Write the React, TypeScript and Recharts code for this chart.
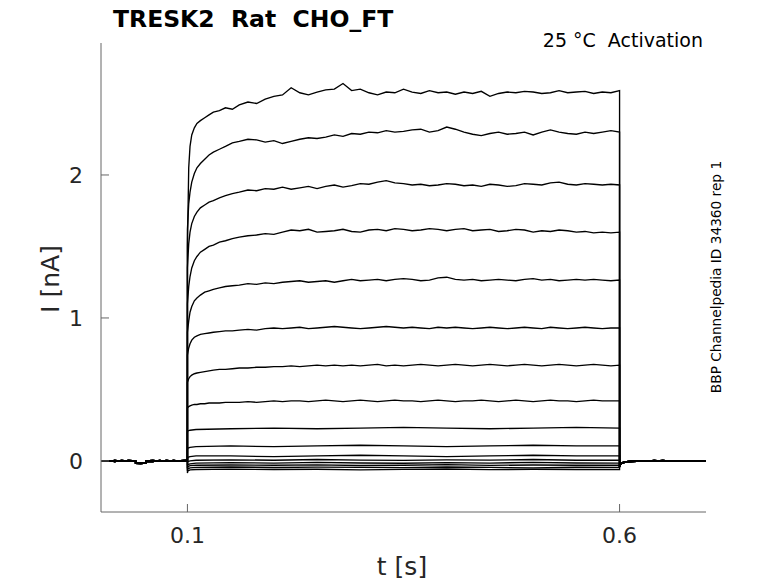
import { LineChart, Line, XAxis, YAxis } from 'recharts'

// holding period before the step (s) and two noise realisations (nA)
const preT = [0, 0.008, 0.016, 0.024, 0.032, 0.04, 0.04, 0.046, 0.052, 0.052, 0.06, 0.068, 0.076, 0.084, 0.092, 0.1]
const preA = [0.002, -0.003, 0.004, -0.002, 0.003, 0, -0.016, -0.018, -0.015, 0, 0.003, -0.002, 0.004, -0.001, 0.002, 0.005]
const preB = [-0.003, 0.002, -0.004, 0.003, -0.002, -0.001, -0.014, -0.016, -0.017, -0.002, -0.004, 0.003, -0.003, 0.004, -0.002, 0]

// after the step
const postT = [0.6, 0.6015, 0.605, 0.61, 0.62, 0.63, 0.64, 0.65, 0.66, 0.67, 0.68, 0.69, 0.7]
const postA = [-0.04, -0.02, -0.012, -0.006, -0.003, 0.002, -0.002, 0.003, -0.001, 0.002, -0.003, 0.001, 0.002]
const postB = [-0.03, -0.015, -0.008, -0.003, 0.002, -0.003, 0.003, -0.002, 0.002, -0.003, 0.002, -0.002, 0]

// step period, fine grid for the large traces
const stepT = [
  0.1, 0.1015, 0.103, 0.105, 0.108, 0.111, 0.115, 0.12, 0.125, 0.13, 0.137, 0.144, 0.152, 0.16, 0.17, 0.18,
  0.19, 0.2, 0.21, 0.22, 0.23, 0.24, 0.25, 0.26, 0.27, 0.28, 0.29, 0.3, 0.31, 0.32, 0.33, 0.34, 0.35, 0.36,
  0.37, 0.38, 0.39, 0.4, 0.41, 0.42, 0.43, 0.44, 0.45, 0.46, 0.47, 0.48, 0.49, 0.5, 0.51, 0.52, 0.53, 0.54,
  0.55, 0.56, 0.57, 0.58, 0.59, 0.6,
]

const tr1 = [
  1.5, 2.05, 2.2, 2.28, 2.33, 2.36, 2.38, 2.4, 2.42, 2.44, 2.45, 2.47, 2.46, 2.49, 2.51, 2.5,
  2.53, 2.55, 2.56, 2.61, 2.575, 2.56, 2.58, 2.595, 2.6, 2.64, 2.59, 2.6, 2.575, 2.56, 2.58, 2.575, 2.6, 2.58,
  2.57, 2.59, 2.575, 2.58, 2.565, 2.58, 2.57, 2.585, 2.55, 2.57, 2.58, 2.575, 2.585, 2.58, 2.57, 2.575, 2.59, 2.575,
  2.58, 2.585, 2.57, 2.58, 2.575, 2.59,
]
const tr2 = [
  1.62, 1.8, 1.88, 1.95, 2.01, 2.05, 2.08, 2.11, 2.14, 2.16, 2.18, 2.2, 2.225, 2.235, 2.25, 2.245,
  2.23, 2.24, 2.22, 2.235, 2.25, 2.26, 2.255, 2.265, 2.28, 2.27, 2.29, 2.285, 2.3, 2.295, 2.31, 2.3, 2.305, 2.315,
  2.32, 2.3, 2.31, 2.335, 2.32, 2.3, 2.285, 2.275, 2.29, 2.3, 2.285, 2.29, 2.3, 2.28, 2.3, 2.315, 2.3, 2.29,
  2.285, 2.3, 2.29, 2.3, 2.31, 2.3,
]
const tr3 = [
  1.35, 1.52, 1.6, 1.66, 1.71, 1.74, 1.77, 1.79, 1.81, 1.82, 1.84, 1.855, 1.87, 1.88, 1.895, 1.89,
  1.905, 1.9, 1.915, 1.9, 1.91, 1.92, 1.905, 1.92, 1.93, 1.915, 1.925, 1.94, 1.935, 1.95, 1.96, 1.945, 1.94, 1.93,
  1.935, 1.925, 1.93, 1.94, 1.935, 1.925, 1.93, 1.92, 1.935, 1.93, 1.92, 1.925, 1.94, 1.935, 1.93, 1.945, 1.95, 1.935,
  1.93, 1.94, 1.935, 1.93, 1.935, 1.93,
]
const tr4 = [
  1.1, 1.22, 1.29, 1.35, 1.4, 1.43, 1.46, 1.48, 1.5, 1.51, 1.53, 1.54, 1.555, 1.565, 1.575, 1.58,
  1.59, 1.585, 1.6, 1.615, 1.61, 1.62, 1.6, 1.605, 1.61, 1.62, 1.605, 1.6, 1.615, 1.62, 1.61, 1.625, 1.62, 1.61,
  1.615, 1.625, 1.62, 1.61, 1.62, 1.625, 1.61, 1.615, 1.62, 1.605, 1.61, 1.62, 1.615, 1.6, 1.61, 1.605, 1.615, 1.61,
  1.6, 1.605, 1.595, 1.6, 1.595, 1.6,
]
const tr5 = [
  0.9, 0.98, 1.04, 1.08, 1.12, 1.14, 1.16, 1.18, 1.19, 1.2, 1.21, 1.22, 1.225, 1.23, 1.24, 1.235,
  1.245, 1.24, 1.25, 1.255, 1.26, 1.25, 1.255, 1.26, 1.25, 1.26, 1.27, 1.26, 1.265, 1.27, 1.26, 1.27, 1.275, 1.27,
  1.26, 1.265, 1.28, 1.285, 1.27, 1.265, 1.27, 1.26, 1.265, 1.27, 1.265, 1.26, 1.27, 1.275, 1.265, 1.27, 1.26, 1.265,
  1.27, 1.265, 1.27, 1.265, 1.26, 1.265,
]
const tr6 = [
  0.74, 0.79, 0.82, 0.845, 0.865, 0.875, 0.885, 0.89, 0.895, 0.9, 0.905, 0.91, 0.91, 0.915, 0.92, 0.915,
  0.925, 0.93, 0.925, 0.93, 0.935, 0.925, 0.93, 0.935, 0.94, 0.935, 0.93, 0.925, 0.93, 0.935, 0.94, 0.935, 0.93, 0.935,
  0.93, 0.925, 0.935, 0.93, 0.935, 0.93, 0.925, 0.93, 0.935, 0.93, 0.925, 0.93, 0.935, 0.93, 0.925, 0.935, 0.93, 0.925,
  0.93, 0.935, 0.93, 0.925, 0.93, 0.93,
]
const tr7 = [
  0.55, 0.575, 0.59, 0.6, 0.61, 0.615, 0.62, 0.625, 0.63, 0.635, 0.64, 0.64, 0.645, 0.65, 0.65, 0.655,
  0.655, 0.66, 0.66, 0.665, 0.66, 0.665, 0.67, 0.665, 0.67, 0.665, 0.67, 0.665, 0.67, 0.675, 0.665, 0.67, 0.665, 0.67,
  0.675, 0.67, 0.665, 0.67, 0.675, 0.67, 0.665, 0.67, 0.675, 0.67, 0.665, 0.67, 0.675, 0.67, 0.665, 0.67, 0.675, 0.67,
  0.665, 0.67, 0.675, 0.67, 0.665, 0.67,
]
const tr8 = [
  0.37, 0.38, 0.385, 0.39, 0.395, 0.395, 0.4, 0.4, 0.405, 0.405, 0.405, 0.41, 0.41, 0.41, 0.415, 0.41,
  0.415, 0.42, 0.415, 0.42, 0.42, 0.415, 0.42, 0.425, 0.42, 0.415, 0.42, 0.425, 0.42, 0.415, 0.42, 0.425, 0.42, 0.42,
  0.415, 0.42, 0.425, 0.42, 0.415, 0.42, 0.42, 0.425, 0.42, 0.415, 0.42, 0.425, 0.42, 0.415, 0.42, 0.425, 0.42, 0.42,
  0.415, 0.42, 0.425, 0.42, 0.42, 0.42,
]

// step period, coarse grid for the small traces
const coarseT = [0.1, 0.1005, 0.103, 0.11, 0.15, 0.2, 0.25, 0.3, 0.35, 0.4, 0.45, 0.5, 0.55, 0.6]
const tr9 = [0.2, 0.21, 0.215, 0.22, 0.225, 0.23, 0.225, 0.23, 0.235, 0.23, 0.225, 0.23, 0.235, 0.23]
const tr10 = [0.08, 0.09, 0.095, 0.1, 0.105, 0.1, 0.105, 0.11, 0.105, 0.1, 0.105, 0.11, 0.105, 0.105]
const tr11 = [0.01, 0.025, 0.03, 0.035, 0.035, 0.03, 0.035, 0.04, 0.035, 0.03, 0.035, 0.04, 0.035, 0.035]
const tr12 = [-0.03, -0.005, 0, 0.005, 0.008, 0.005, 0.01, 0.006, 0.004, 0.008, 0.006, 0.01, 0.005, 0.006]
const tr13 = [-0.05, -0.025, -0.02, -0.015, -0.012, -0.015, -0.01, -0.014, -0.016, -0.012, -0.015, -0.01, -0.014, -0.015]
const tr14 = [-0.06, -0.04, -0.033, -0.03, -0.028, -0.03, -0.027, -0.032, -0.03, -0.026, -0.031, -0.028, -0.03, -0.03]
const tr15 = [-0.07, -0.055, -0.048, -0.045, -0.042, -0.046, -0.043, -0.045, -0.047, -0.042, -0.045, -0.048, -0.044, -0.045]
const tr16 = [-0.085, -0.07, -0.062, -0.06, -0.057, -0.06, -0.058, -0.062, -0.059, -0.056, -0.061, -0.058, -0.06, -0.06]

const xTicks = [0.1, 0.6]
const yTicks = [0, 1, 2]

type Pt = { t: number; i: number }

const zip = (ts: number[], vs: number[]): Pt[] => ts.map((t, k) => ({ t, i: vs[k] }))

const fine = [tr1, tr2, tr3, tr4, tr5, tr6, tr7, tr8]
const coarse = [tr9, tr10, tr11, tr12, tr13, tr14, tr15, tr16]

const traces: Pt[][] = [
  ...fine.map((v, k) => [
    ...zip(preT, k % 2 ? preB : preA),
    ...zip(stepT, v),
    ...zip(postT, k % 2 ? postB : postA),
  ]),
  ...coarse.map((v, k) => [
    ...zip(preT, k % 2 ? preA : preB),
    ...zip(coarseT, v),
    ...zip(postT, k % 2 ? postA : postB),
  ]),
]

const FONT = '"DejaVu Sans", sans-serif'
const AXIS = '#666'
const TEXT = '#262626'

export default function App() {
  return (
    <div style={{ position: 'absolute', left: 0, top: 0, width: 778, height: 583, background: '#fff' }}>
      <LineChart width={778} height={583} margin={{ top: 43, right: 72, bottom: 41, left: 41 }}>
        <XAxis
          type="number"
          dataKey="t"
          domain={[0, 0.7]}
          ticks={xTicks}
          allowDataOverflow
          height={30}
          stroke={AXIS}
          tickSize={-8}
          tickMargin={23}
          tick={{ fill: TEXT, fontSize: 22, fontFamily: FONT }}
        />
        <YAxis
          type="number"
          dataKey="i"
          domain={[-0.357, 2.923]}
          ticks={yTicks}
          allowDataOverflow
          width={60}
          stroke={AXIS}
          tickSize={-8}
          tickMargin={26}
          tick={{ fill: TEXT, fontSize: 22, fontFamily: FONT }}
        />
        {traces.map((d, k) => (
          <Line
            key={k}
            data={d}
            dataKey="i"
            type="linear"
            stroke="#000"
            strokeWidth={1.35}
            dot={false}
            isAnimationActive={false}
          />
        ))}
      </LineChart>
      <svg width={778} height={583} style={{ position: 'absolute', left: 0, top: 0, pointerEvents: 'none' }}>
        <text x={113} y={27} fontFamily={FONT} fontWeight="bold" fontSize={23.5} fill="#000" style={{ whiteSpace: 'pre' }}>
          {'TRESK2  Rat  CHO_FT'}
        </text>
        <text x={703} y={47} textAnchor="end" fontFamily={FONT} fontSize={19} fill="#000" style={{ whiteSpace: 'pre' }}>
          {'25 °C  Activation'}
        </text>
        <text x={721} y={277} textAnchor="middle" fontFamily={FONT} fontSize={13.7} fill="#000" transform="rotate(-90 721 277)">
          BBP Channelpedia ID 34360 rep 1
        </text>
        <text x={59} y={279} textAnchor="middle" fontFamily={FONT} fontSize={25} fill={TEXT} transform="rotate(-90 59 279)">
          I [nA]
        </text>
        <text x={402} y={575} textAnchor="middle" fontFamily={FONT} fontSize={25} fill={TEXT}>
          t [s]
        </text>
      </svg>
    </div>
  )
}
